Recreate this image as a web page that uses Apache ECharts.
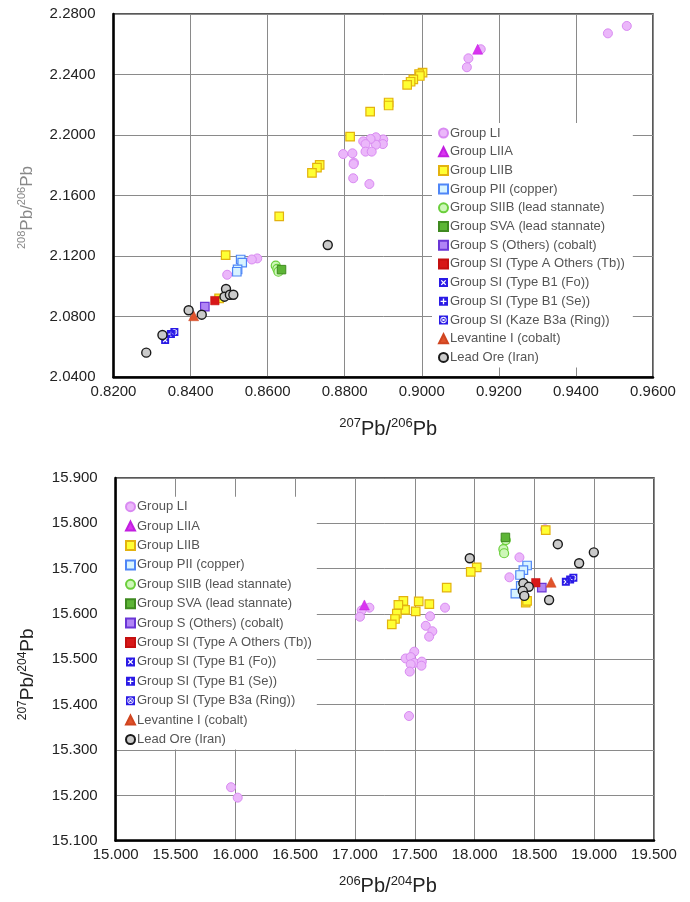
<!DOCTYPE html>
<html>
<head>
<meta charset="utf-8">
<script src="https://cdn.jsdelivr.net/npm/echarts@6/dist/echarts.min.js"></script>
<style>
  html, body { margin: 0; padding: 0; background: #fff; }
  #top, #bottom { width: 690px; height: 451px; }
</style>
</head>
<body>
<div id="top"></div>
<div id="bottom"></div>
<script>
// ---- Group labels (legend order = draw order) ----
const groupNames = [
  'Group LI', 'Group LIIA', 'Group LIIB', 'Group PII (copper)',
  'Group SIIB (lead stannate)', 'Group SVA (lead stannate)',
  'Group S (Others) (cobalt)', 'Group SI (Type A Others (Tb))',
  'Group SI (Type B1 (Fo))', 'Group SI (Type B1 (Se))',
  'Group SI (Kaze B3a (Ring))', 'Levantine I (cobalt)', 'Lead Ore (Iran)'
];
const groupNamesBottom = groupNames.map(n => n === 'Group SI (Kaze B3a (Ring))' ? 'Group SI (Type B3a (Ring))' : n);

// ---- Upper plot: 207Pb/206Pb (x) vs 208Pb/206Pb (y) ----
const LI_top = [[0.9532,2.2721],[0.9483,2.2672],[0.9153,2.2567],[0.9121,2.2507],[0.9117,2.2448],
  [0.8900,2.1971],[0.8899,2.1940],[0.8881,2.1985],[0.8881,2.1936],[0.8867,2.1974],[0.8848,2.1958],
  [0.8854,2.1940],[0.8854,2.1890],[0.8870,2.1890],[0.8820,2.1879],[0.8796,2.1874],[0.8824,2.1817],
  [0.8823,2.1808],[0.8822,2.1714],[0.8864,2.1676],[0.8573,2.1184],[0.8559,2.1177],[0.8495,2.1076]];
const LIIA_top = [[0.9145,2.2567]];
const LIIB_top = [[0.9002,2.2412],[0.8993,2.2403],[0.8995,2.2390],[0.8978,2.2368],[0.8971,2.2352],
  [0.8962,2.2331],[0.8914,2.2215],[0.8914,2.2195],[0.8866,2.2154],[0.8814,2.1989],[0.8735,2.1802],
  [0.8728,2.1784],[0.8715,2.1749],[0.8630,2.1462],[0.8491,2.1206],[0.8474,2.0920]];
const PII_top = [[0.8530,2.1177],[0.8534,2.1156],[0.8522,2.1112],[0.8520,2.1096]];
const SIIB_top = [[0.8621,2.1136],[0.8625,2.1115],[0.8628,2.1096]];
const SVA_top = [[0.8636,2.1110]];
const SOthers_top = [[0.8437,2.0865]];
const SITypeA_top = [[0.8463,2.0905]];
const SIFo_top = [[0.8334,2.0644]];
const SISe_top = [[0.8349,2.0684]];
const SIRing_top = [[0.8358,2.0697]];
const Levantine_top = [[0.8408,2.0805]];
const LeadOre_top = [[0.8756,2.1273],[0.8492,2.0982],[0.8488,2.0931],[0.8502,2.0944],[0.8511,2.0944],
  [0.8395,2.0841],[0.8429,2.0812],[0.8327,2.0678],[0.8285,2.0561]];

// ---- Lower plot: 206Pb/204Pb (x) vs 207Pb/204Pb (y) ----
const LI_bot = [[18.590,15.787],[18.375,15.725],[18.291,15.681],[17.753,15.614],[17.628,15.595],
  [17.592,15.574],[17.647,15.562],[17.620,15.550],[17.496,15.517],[17.424,15.502],[17.466,15.505],
  [17.496,15.492],[17.466,15.489],[17.559,15.495],[17.556,15.486],[17.458,15.473],[17.452,15.375],
  [17.121,15.614],[17.056,15.608],[17.042,15.594],[15.964,15.218],[16.020,15.195]];
const LIIA_bot = [[17.079,15.620]];
const LIIB_bot = [[18.595,15.785],[18.018,15.703],[17.968,15.693],[17.767,15.658],[18.428,15.625],
  [18.439,15.629],[17.622,15.622],[17.533,15.628],[17.508,15.606],[17.405,15.629],[17.419,15.609],
  [17.363,15.620],[17.350,15.601],[17.335,15.589],[17.308,15.577]];
const PII_bot = [[18.439,15.707],[18.408,15.697],[18.380,15.686],[18.386,15.662],[18.341,15.645]];
const SIIB_bot = [[18.261,15.763],[18.241,15.743],[18.247,15.734]];
const SVA_bot = [[18.258,15.769]];
const SOthers_bot = [[18.562,15.658]];
const SITypeA_bot = [[18.512,15.669]];
const SIFo_bot = [[18.763,15.671]];
const SISe_bot = [[18.799,15.676]];
const SIRing_bot = [[18.826,15.680]];
const Levantine_bot = [[18.640,15.670]];
const LeadOre_bot = [[18.696,15.754],[18.997,15.736],[18.874,15.712],[17.960,15.723],[18.623,15.631],
  [18.408,15.668],[18.453,15.660],[18.403,15.651],[18.416,15.640]];

// ---- Axis ranges / ticks ----
const xTicksTop = { min: 0.82, max: 0.96, interval: 0.02, digits: 4 };
const yTicksTop = { min: 2.04, max: 2.28, interval: 0.04, digits: 4 };
const xTicksBot = { min: 15.0, max: 19.5, interval: 0.5, digits: 3 };
const yTicksBot = { min: 15.1, max: 15.9, interval: 0.1, digits: 3 };

// ---- Marker styles ----
// Blue squares with white cut-outs (inner sub-paths wound the other way make holes).
const SQ = 'M0 0L20 0L20 20L0 20Z';
const symFo = 'path://' + SQ + 'M4 6L8 10L4 14L6 16L10 12L14 16L16 14L12 10L16 6L14 4L10 8L6 4Z';
const symSe = 'path://' + SQ + 'M8.5 3.5L8.5 8.5L3.5 8.5L3.5 11.5L8.5 11.5L8.5 16.5L11.5 16.5L11.5 11.5L16.5 11.5L16.5 8.5L11.5 8.5L11.5 3.5Z';
const symRing = 'path://' + SQ +
  'M10 3A7 7 0 1 0 10 17A7 7 0 1 0 10 3Z' +
  'M10 4.8A5.2 5.2 0 1 1 10 15.2A5.2 5.2 0 1 1 10 4.8Z' +
  'M6.6 8L8.6 10L6.6 12L8 13.4L10 11.4L12 13.4L13.4 12L11.4 10L13.4 8L12 6.6L10 8.6L8 6.6Z';

const styles = [
  { symbol: 'circle', size: 9, color: '#ebb7fa', border: '#d98af2', bw: 1 },
  { symbol: 'triangle', size: 10, color: '#d934f0', border: '#c21fe0', bw: 0.5 },
  { symbol: 'rect', size: 8.5, color: '#ffff33', border: '#e3b20f', bw: 1.2 },
  { symbol: 'rect', size: 8.5, color: '#d8f4ff', border: '#4f86f7', bw: 1.2 },
  { symbol: 'circle', size: 9, color: '#cdf7b8', border: '#6bcf3c', bw: 1.2 },
  { symbol: 'rect', size: 8.5, color: '#5db536', border: '#3f8a20', bw: 1 },
  { symbol: 'rect', size: 8.5, color: '#b084f5', border: '#6b36d6', bw: 1.2 },
  { symbol: 'rect', size: 8.5, color: '#d81818', border: '#c41010', bw: 0.5 },
  { symbol: symFo, size: 8, color: '#2a1ae6', border: null, bw: 0 },
  { symbol: symSe, size: 8, color: '#2a1ae6', border: null, bw: 0 },
  { symbol: symRing, size: 8, color: '#2a1ae6', border: null, bw: 0 },
  { symbol: 'triangle', size: 10, color: '#e0532b', border: '#d04520', bw: 0.5 },
  { symbol: 'circle', size: 9, color: '#cacaca', border: '#1a1a1a', bw: 1.4 }
];

const FONT = "'Liberation Sans', Arial, Helvetica, sans-serif";

function axisName(a, b) {
  return '{sup|' + a + '}{main|Pb/}{sup|' + b + '}{main|Pb}';
}

function build(el, cfg) {
  const chart = echarts.init(document.getElementById(el), null, { renderer: 'canvas' });
  const rich = (color, big, small) => ({
    main: { fontSize: big, fontFamily: FONT, color: color, lineHeight: big + 4 },
    sup: { fontSize: small, fontFamily: FONT, color: color, lineHeight: small + 1, verticalAlign: 'top' }
  });
  const axisCommon = (t) => ({
    type: 'value', min: t.min, max: t.max, interval: t.interval,
    axisLine: { show: true, onZero: false, lineStyle: { color: '#000', width: 2.5 } },
    axisTick: { show: false },
    splitLine: { show: true, lineStyle: { color: '#8a8a8a', width: 1 } },
    axisLabel: { fontSize: 15, fontFamily: FONT, color: '#222', formatter: v => v.toFixed(t.digits) },
    nameLocation: 'middle'
  });
  const series = cfg.data.map((d, i) => {
    const s = styles[i];
    return {
      name: cfg.names[i], type: 'scatter', data: d,
      symbol: s.symbol, symbolSize: s.size,
      itemStyle: { color: s.color, borderColor: s.border || s.color, borderWidth: s.bw, opacity: 1 },
      emphasis: { disabled: true },
      z: 2 + i * 0.01
    };
  });
  chart.setOption({
    animation: false,
    backgroundColor: '#fff',
    grid: { left: cfg.grid[0], top: cfg.grid[1], right: cfg.grid[2], bottom: cfg.grid[3],
            show: true, borderColor: '#222', borderWidth: 1.5, backgroundColor: 'transparent' },
    xAxis: Object.assign(axisCommon(cfg.xt), {
      name: axisName(cfg.xName[0], cfg.xName[1]), nameGap: cfg.xGap,
      nameTextStyle: { rich: rich('#222', 20, 13), padding: cfg.xNamePad },
      axisLabel: Object.assign(axisCommon(cfg.xt).axisLabel, { margin: 7 })
    }),
    yAxis: Object.assign(axisCommon(cfg.yt), {
      name: axisName(cfg.yName[0], cfg.yName[1]), nameGap: cfg.yGap, nameRotate: 90,
      nameTextStyle: { rich: rich(cfg.yNameColor, cfg.yFont[0], cfg.yFont[1]), padding: cfg.yNamePad },
      axisLabel: Object.assign(axisCommon(cfg.yt).axisLabel, { margin: 18 })
    }),
    legend: {
      orient: 'vertical', left: cfg.legend.left, top: cfg.legend.top,
      padding: cfg.legend.padding, itemGap: cfg.legend.gap,
      itemWidth: 9, itemHeight: 9, selectedMode: false,
      backgroundColor: '#fff',
      textStyle: { fontSize: 13, fontFamily: FONT, color: '#555', lineHeight: 14, padding: [0, 0, 0, -3] },
      data: cfg.names
    },
    series: series
  });
  return chart;
}

build('top', {
  names: groupNames,
  data: [LI_top, LIIA_top, LIIB_top, PII_top, SIIB_top, SVA_top, SOthers_top, SITypeA_top,
         SIFo_top, SISe_top, SIRing_top, Levantine_top, LeadOre_top],
  xt: xTicksTop, yt: yTicksTop,
  grid: [113.5, 14, 37, 74],
  xName: ['207', '206'], yName: ['208', '206'], xGap: 40, yGap: 76,
  xNamePad: [0, 0, 0, 10], yNamePad: [0, 24, 0, 0], yFont: [17, 11], yNameColor: '#888',
  legend: { left: 432, top: 123, padding: [3, 8, 3, 6], gap: 4.7 }
});

build('bottom', {
  names: groupNamesBottom,
  data: [LI_bot, LIIA_bot, LIIB_bot, PII_bot, SIIB_bot, SVA_bot, SOthers_bot, SITypeA_bot,
         SIFo_bot, SISe_bot, SIRing_bot, Levantine_bot, LeadOre_bot],
  xt: xTicksBot, yt: yTicksBot,
  grid: [115.7, 27, 36, 61.3],
  xName: ['206', '204'], yName: ['207', '204'], xGap: 34, yGap: 76,
  xNamePad: [0, 0, 0, 6], yNamePad: [0, 30, 0, 0], yFont: [19, 12], yNameColor: '#222',
  legend: { left: 117, top: 45.7, padding: [3, 5, 3, 8], gap: 5.4 }
});
</script>
</body>
</html>
